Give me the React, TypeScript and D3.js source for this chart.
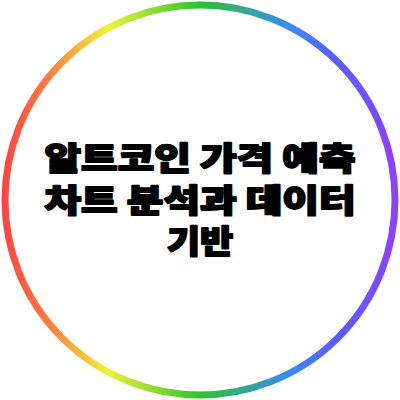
import React from "react";
import * as d3 from "d3";

const titleLines = ["알트코인 가격 예측", "차트 분석과 데이터", "기반"];
const gradOffsets = [0, 0.12, 0.27, 0.5, 0.72, 0.84, 1];
const gradColors = ["#ff4040", "#ff7a40", "#eef23a", "#2ec22e", "#3a8cf2", "#5a5cff", "#9040ff"];

export default function App() {
  const W = 400, H = 400;
  const cx = W / 2, cy = H / 2, r = 195;
  const lineY = d3.scaleLinear().domain([0, 2]).range([170, 253]);
  return (
    <svg width={W} height={H} style={{ position: "absolute", left: 0, top: 0, background: "#fff" }}>
      <defs>
        <linearGradient id="ring" gradientUnits="userSpaceOnUse" x1={0} y1={0} x2={W} y2={0}>
          {gradOffsets.map((o, i) => (
            <stop key={i} offset={o} stopColor={gradColors[i]} />
          ))}
        </linearGradient>
      </defs>
      <rect width={W} height={H} fill="#fff" />
      <circle cx={cx} cy={cy} r={r} fill="none" stroke="url(#ring)" strokeWidth={7} />
      {titleLines.map((t, i) => (
        <g key={i} transform={`translate(${cx},${lineY(i)}) scale(1,0.88)`}>
          <text
            x={0}
            y={0}
            textAnchor="middle"
            fontFamily="'Noto Sans CJK KR', 'Noto Sans', sans-serif"
            fontWeight={900}
            fontSize={36}
            fill="#000"
            stroke="#000"
            strokeWidth={2}
            strokeLinejoin="round"
            textLength={i < 2 ? 311 : undefined}
            lengthAdjust="spacingAndGlyphs"
          >
            {t}
          </text>
        </g>
      ))}
    </svg>
  );
}
